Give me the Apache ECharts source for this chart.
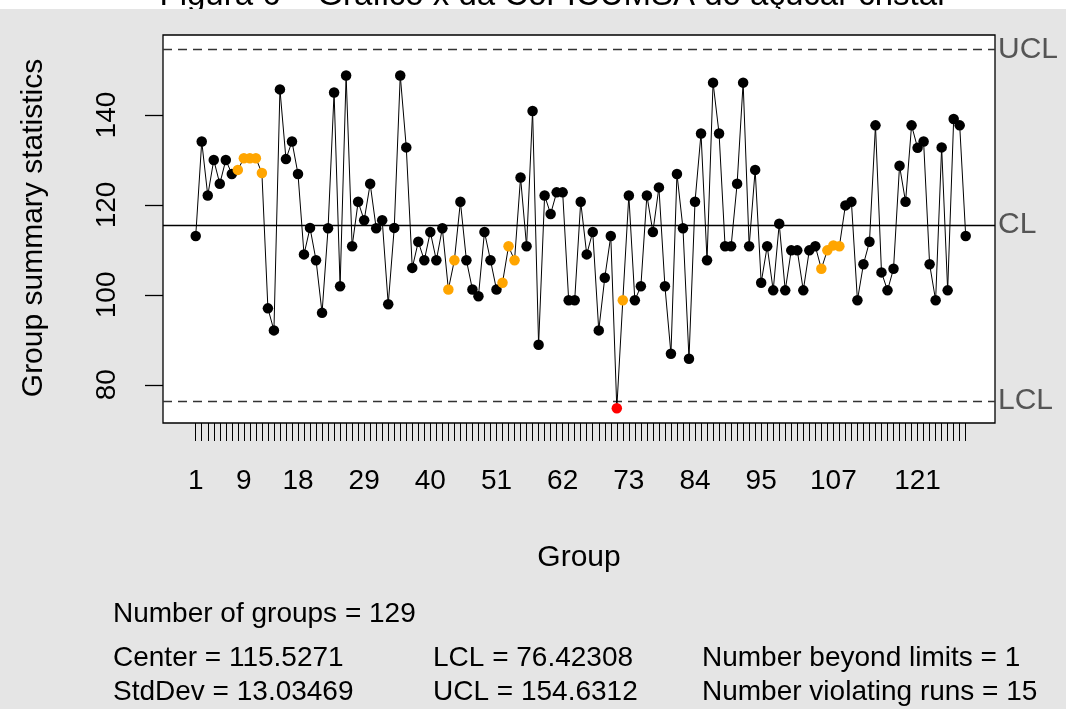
<!DOCTYPE html>
<html>
<head>
<meta charset="utf-8">
<script src="https://cdn.jsdelivr.net/npm/echarts@6/dist/echarts.min.js"></script>
<style>
  html, body { margin: 0; padding: 0; background: #ffffff; }
  #chart { width: 1066px; height: 709px; }
</style>
</head>
<body>
<div id="chart"></div>
<script>
// Xbar chart of ICUMSA colour, 129 groups
const groupValues = [
  113.1, 134.1, 122.1, 130.0, 124.7, 130.0, 126.9, 127.8, 130.4, 130.4,
  130.4, 127.1, 97.0, 92.1, 145.7, 130.2, 134.1, 126.9, 109.0, 114.9,
  107.7, 96.0, 114.8, 145.0, 101.9, 148.8, 110.8, 120.7, 116.6, 124.7,
  114.8, 116.6, 97.9, 114.9, 148.8, 132.8, 106.0, 111.8, 107.7, 114.0,
  107.7, 114.8, 101.2, 107.7, 120.7, 107.7, 101.2, 99.7, 114.0, 107.7,
  101.2, 102.7, 110.8, 107.7, 126.1, 110.8, 140.9, 88.9, 122.1, 118.0,
  122.8, 122.8, 98.8, 98.8, 120.7, 109.0, 114.0, 92.1, 103.8, 113.1,
  74.8, 98.8, 122.1, 98.8, 101.9, 122.1, 114.0, 123.9, 101.9, 86.9,
  126.9, 114.8, 85.8, 120.7, 135.9, 107.7, 147.2, 135.9, 110.8, 110.8,
  124.7, 147.2, 110.8, 127.8, 102.7, 110.8, 101.0, 115.8, 101.0, 109.9,
  109.9, 101.0, 109.9, 110.8, 105.8, 109.9, 111.0, 110.8, 119.9, 120.7,
  98.8, 106.8, 111.8, 137.7, 105.0, 101.0, 105.8, 128.7, 120.7, 137.7,
  132.7, 134.1, 106.8, 98.8, 132.8, 101.0, 139.1, 137.7, 113.1
];
const groups = groupValues.map((_, i) => i + 1);

// groups flagged by the runs rule
const violatingRuns = [8, 9, 10, 11, 12, 43, 44, 52, 53, 54, 72, 105, 106, 107, 108];

// control limits
const center = 115.5271;
const lcl = 76.42308;
const ucl = 154.6312;

// tick labels
const xTickLabels = [1, 9, 18, 29, 40, 51, 62, 73, 84, 95, 107, 121];
const yTickLabels = [80, 100, 120, 140];

const statsLines = [
  ['Number of groups = 129', '', ''],
  ['Center = 115.5271', 'LCL = 76.42308', 'Number beyond limits = 1'],
  ['StdDev = 13.03469', 'UCL = 154.6312', 'Number violating runs = 15']
];

const FONT = '"Liberation Sans", Arial, sans-serif';

const seriesData = groups.map((g, i) => {
  const v = groupValues[i];
  let color = '#000000';
  if (v < lcl || v > ucl) color = '#ff0000';
  else if (violatingRuns.includes(g)) color = '#ffa500';
  return { value: [g, v], itemStyle: { color: color } };
});

const chart = echarts.init(document.getElementById('chart'), null, { renderer: 'canvas' });

const statsX = [113, 433, 702];
const statsY = [614, 658, 692];
const statsGraphics = [];
statsLines.forEach((row, r) => {
  row.forEach((txt, c) => {
    if (!txt) return;
    statsGraphics.push({
      type: 'text', x: statsX[c], y: statsY[r], z: 10,
      style: { text: txt, font: '28px ' + FONT, fill: '#000', align: 'left', verticalAlign: 'middle' }
    });
  });
});

const option = {
  backgroundColor: '#ffffff',
  animation: false,
  grid: {
    left: 163, top: 35, width: 832, height: 388,
    show: true, backgroundColor: '#ffffff', borderColor: '#000000', borderWidth: 1.3,
    containLabel: false
  },
  xAxis: {
    type: 'value', min: -4.44, max: 133.87,
    axisLine: { show: false, onZero: false },
    splitLine: { show: false },
    axisTick: { show: true, length: 18, customValues: groups, lineStyle: { color: '#000', width: 1 } },
    axisLabel: { customValues: xTickLabels, margin: 44, fontFamily: FONT, fontSize: 28, color: '#000' }
  },
  yAxis: {
    type: 'value', min: 71.5, max: 157.8,
    axisLine: { show: false, onZero: false },
    splitLine: { show: false },
    axisTick: { show: true, length: 18, customValues: yTickLabels, lineStyle: { color: '#000', width: 1.3 } },
    axisLabel: { customValues: yTickLabels, rotate: 90, margin: 42, fontFamily: FONT, fontSize: 28, color: '#000' }
  },
  series: [{
    type: 'line',
    data: seriesData,
    symbol: 'circle',
    symbolSize: 10.5,
    lineStyle: { color: '#000', width: 1 },
    itemStyle: { borderWidth: 0 },
    z: 5,
    markLine: {
      silent: true,
      symbol: ['none', 'none'],
      animation: false,
      label: { position: 'end', distance: 3, fontFamily: FONT, fontSize: 30, color: '#555555' },
      data: [
        { yAxis: ucl, label: { formatter: 'UCL' }, lineStyle: { type: [9, 6], color: '#333', width: 1.3 } },
        { yAxis: center, label: { formatter: 'CL' }, lineStyle: { type: 'solid', color: '#000', width: 1.3 } },
        { yAxis: lcl, label: { formatter: 'LCL' }, lineStyle: { type: [9, 6], color: '#333', width: 1.3 } }
      ]
    }
  }],
  graphic: [
    {
      type: 'text', x: 552, y: 12, z: -30,
      style: { text: 'Figura 6 – Gráfico x̄ da Cor ICUMSA do açúcar cristal', font: '33px ' + FONT, fill: '#000', align: 'center', verticalAlign: 'bottom' }
    },
    {
      type: 'rect', z: -20, shape: { x: 0, y: 9, width: 1066, height: 700 },
      style: { fill: '#e5e5e5' }
    },
    {
      type: 'text', x: 579, y: 558, z: 10,
      style: { text: 'Group', font: '30px ' + FONT, fill: '#000', align: 'center', verticalAlign: 'middle' }
    },
    {
      type: 'text', x: 34, y: 228, z: 10, rotation: Math.PI / 2,
      style: { text: 'Group summary statistics', font: '30px ' + FONT, fill: '#000', align: 'center', verticalAlign: 'middle' }
    }
  ].concat(statsGraphics)
};

chart.setOption(option);
</script>
</body>
</html>
